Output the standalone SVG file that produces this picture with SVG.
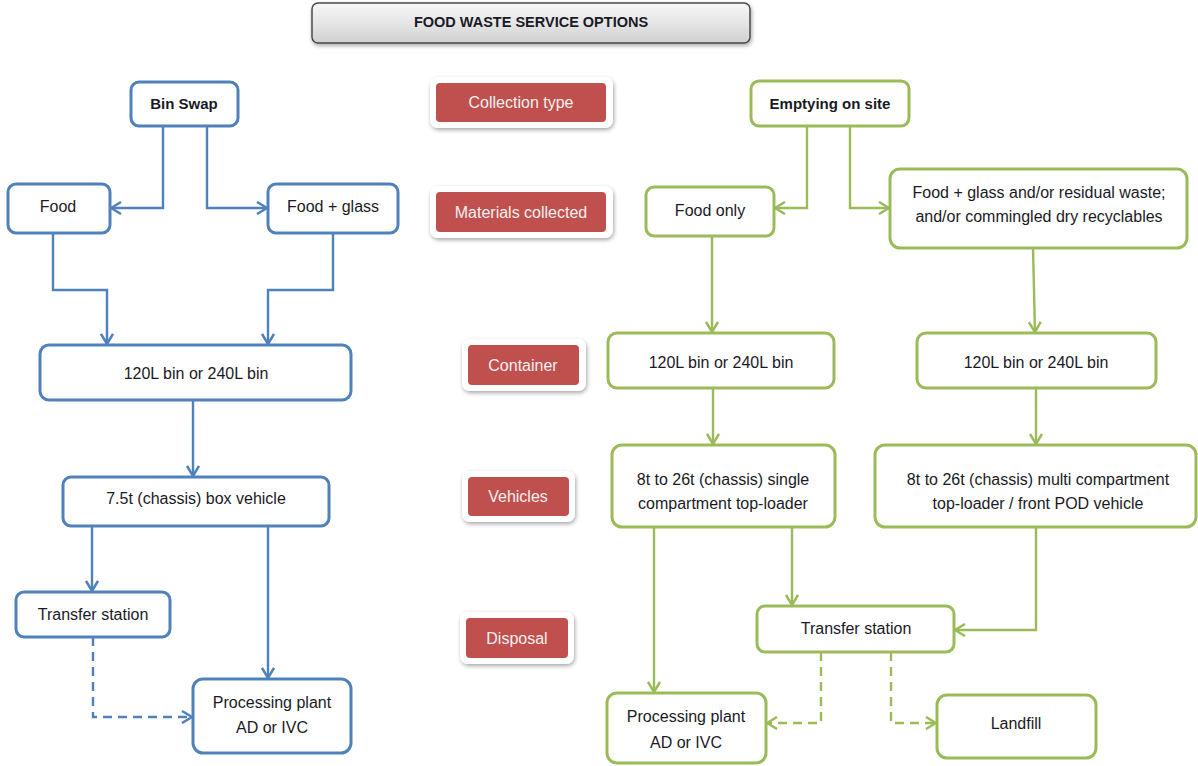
<svg xmlns="http://www.w3.org/2000/svg" width="1198" height="766" viewBox="0 0 1198 766">
<defs>
<linearGradient id="gTitle" x1="0" y1="0" x2="0" y2="1">
<stop offset="0" stop-color="#f7f7f7"/>
<stop offset="0.5" stop-color="#e6e6e6"/>
<stop offset="1" stop-color="#cfcfcf"/>
</linearGradient>
<filter id="shadow" x="-10%" y="-20%" width="120%" height="160%">
<feGaussianBlur in="SourceAlpha" stdDeviation="2"/>
<feOffset dx="1" dy="2" result="b"/>
<feComponentTransfer><feFuncA type="linear" slope="0.35"/></feComponentTransfer>
<feMerge><feMergeNode/><feMergeNode in="SourceGraphic"/></feMerge>
</filter>
<marker id="aB" viewBox="0 0 12 14" refX="11" refY="7" markerWidth="12" markerHeight="14" markerUnits="userSpaceOnUse" orient="auto">
<path d="M1,1 L11,7 L1,13" fill="none" stroke="#4f81bd" stroke-width="2.5"/>
</marker>
<marker id="aG" viewBox="0 0 12 14" refX="11" refY="7" markerWidth="12" markerHeight="14" markerUnits="userSpaceOnUse" orient="auto">
<path d="M1,1 L11,7 L1,13" fill="none" stroke="#9bbb59" stroke-width="2.5"/>
</marker>
</defs>
<style>
text{font-family:"Liberation Sans",Arial,sans-serif;font-size:16px;fill:#1a1a26;text-anchor:middle;dominant-baseline:central}
.b{font-weight:bold;font-size:15px}
.blue{fill:#fff;stroke:#4f81bd;stroke-width:3}
.green{fill:#fff;stroke:#9bbb59;stroke-width:3}
.lab-o{fill:#fff;filter:url(#shadow)}
.lab-i{fill:#c0504d}
.lab{fill:#f6f0f0}
.cb{fill:none;stroke:#4f81bd;stroke-width:2.4;marker-end:url(#aB)}
.cg{fill:none;stroke:#9bbb59;stroke-width:2.4;marker-end:url(#aG)}
.d{stroke-dasharray:9,6}
</style>
<rect width="1198" height="766" fill="#fff"/>

<g id="title">
<rect x="312" y="3" width="438" height="40" rx="6" fill="url(#gTitle)" stroke="#4a4a4a" stroke-width="1.5" filter="url(#shadow)"/>
<text x="531" y="22" class="b" style="font-size:14.5px">FOOD WASTE SERVICE OPTIONS</text>
</g>

<g id="label-collection">
<rect class="lab-o" x="430" y="77" width="183" height="51" rx="8"/>
<rect class="lab-i" x="436" y="83" width="170" height="39" rx="4"/>
<text class="lab" x="521" y="102">Collection type</text>
</g>
<g id="label-materials">
<rect class="lab-o" x="430" y="186" width="183" height="52" rx="8"/>
<rect class="lab-i" x="436" y="192" width="170" height="40" rx="4"/>
<text class="lab" x="521" y="212">Materials collected</text>
</g>
<g id="label-container">
<rect class="lab-o" x="462" y="339" width="124" height="52" rx="8"/>
<rect class="lab-i" x="468" y="345" width="111" height="40" rx="4"/>
<text class="lab" x="523" y="365">Container</text>
</g>
<g id="label-vehicles">
<rect class="lab-o" x="462" y="471" width="113" height="51" rx="8"/>
<rect class="lab-i" x="468" y="477" width="101" height="39" rx="4"/>
<text class="lab" x="518" y="496">Vehicles</text>
</g>
<g id="label-disposal">
<rect class="lab-o" x="460" y="612" width="114" height="52" rx="8"/>
<rect class="lab-i" x="466" y="618" width="102" height="40" rx="4"/>
<text class="lab" x="517" y="638">Disposal</text>
</g>

<g id="connectors">
<path class="cb" d="M163,126 V208 H111"/>
<path class="cb" d="M207,126 V208 H267"/>
<path class="cb" d="M53,233 V290 H107 V344"/>
<path class="cb" d="M333,233 V290 H268 V344"/>
<path class="cb" d="M193,401 V476"/>
<path class="cb" d="M92,526 V591"/>
<path class="cb" d="M268,526 V678"/>
<path class="cb d" d="M93,637 V717 H192"/>
<path class="cg" d="M807,126 V208 H775"/>
<path class="cg" d="M850,126 V208 H889"/>
<path class="cg" d="M712,236 V332"/>
<path class="cg" d="M1033,248 L1035,332"/>
<path class="cg" d="M713,388 V444"/>
<path class="cg" d="M1036,388 V444"/>
<path class="cg" d="M654,527 V692"/>
<path class="cg" d="M792,527 V605"/>
<path class="cg" d="M1036,527 V630 H955"/>
<path class="cg d" d="M821,652 V723 H767"/>
<path class="cg d" d="M891,652 V723 H936"/>
</g>

<g id="bin-swap">
<rect class="blue" x="131" y="82" width="107" height="44" rx="8"/>
<text class="b" x="184" y="103">Bin Swap</text>
</g>
<g id="food">
<rect class="blue" x="8" y="184" width="102" height="49" rx="8"/>
<text x="58" y="206">Food</text>
</g>
<g id="food-glass">
<rect class="blue" x="268" y="184" width="130" height="49" rx="8"/>
<text x="333" y="206">Food + glass</text>
</g>
<g id="bin-blue">
<rect class="blue" x="40" y="345" width="311" height="55" rx="9"/>
<text x="196" y="373">120L bin or 240L bin</text>
</g>
<g id="box-vehicle">
<rect class="blue" x="63" y="477" width="266" height="49" rx="8"/>
<text x="196" y="498">7.5t (chassis) box vehicle</text>
</g>
<g id="transfer-blue">
<rect class="blue" x="16" y="592" width="154" height="45" rx="8"/>
<text x="93" y="614">Transfer station</text>
</g>
<g id="processing-blue">
<rect class="blue" x="193" y="679" width="158" height="74" rx="10"/>
<text x="272" y="702">Processing plant</text>
<text x="272" y="727">AD or IVC</text>
</g>

<g id="emptying">
<rect class="green" x="751" y="81" width="158" height="45" rx="8"/>
<text class="b" x="830" y="103">Emptying on site</text>
</g>
<g id="food-only">
<rect class="green" x="646" y="187" width="128" height="49" rx="8"/>
<text x="710" y="210">Food only</text>
</g>
<g id="food-glass-mixed">
<rect class="green" x="890" y="169" width="297" height="79" rx="10"/>
<text x="1039" y="192">Food + glass and/or residual waste;</text>
<text x="1039" y="216">and/or commingled dry recyclables</text>
</g>
<g id="bin-green-1">
<rect class="green" x="608" y="333" width="226" height="55" rx="9"/>
<text x="721" y="362">120L bin or 240L bin</text>
</g>
<g id="bin-green-2">
<rect class="green" x="917" y="333" width="239" height="55" rx="9"/>
<text x="1036" y="362">120L bin or 240L bin</text>
</g>
<g id="single-compartment">
<rect class="green" x="612" y="445" width="223" height="82" rx="10"/>
<text x="723" y="479">8t to 26t (chassis) single</text>
<text x="723" y="503">compartment top-loader</text>
</g>
<g id="multi-compartment">
<rect class="green" x="875" y="445" width="321" height="82" rx="10"/>
<text x="1038" y="479">8t to 26t (chassis) multi compartment</text>
<text x="1038" y="503">top-loader / front POD vehicle</text>
</g>
<g id="transfer-green">
<rect class="green" x="757" y="606" width="197" height="46" rx="8"/>
<text x="856" y="628">Transfer station</text>
</g>
<g id="processing-green">
<rect class="green" x="607" y="693" width="159" height="70" rx="10"/>
<text x="686" y="716">Processing plant</text>
<text x="686" y="742">AD or IVC</text>
</g>
<g id="landfill">
<rect class="green" x="937" y="695" width="159" height="63" rx="10"/>
<text x="1016" y="723">Landfill</text>
</g>
</svg>
